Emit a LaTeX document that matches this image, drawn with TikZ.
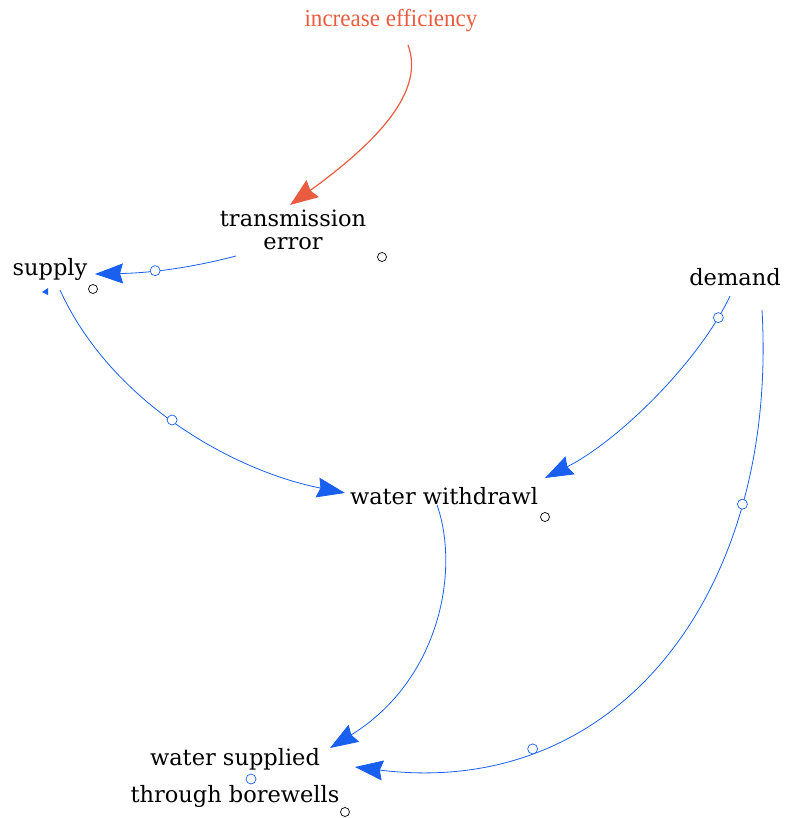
\documentclass[tikz,border=0pt]{standalone}
\usepackage{fontspec}
\setmainfont{DejaVu Serif}
\newfontfamily\policyfont{Liberation Serif}
\usetikzlibrary{arrows.meta,calc}
\definecolor{linkblue}{RGB}{25,95,240}
\definecolor{policy}{RGB}{234,92,64}
\begin{document}
\begin{tikzpicture}[x=1pt,y=-1pt,
  var/.style={inner sep=0pt, align=center, font=\fontsize{22.5}{23}\selectfont},
  link/.style={draw=linkblue, line width=0.8pt,
    -{Stealth[length=28pt,width=20pt,inset=3pt]}},
  plink/.style={draw=policy, line width=1.2pt,
    -{Stealth[length=28pt,width=21pt,inset=3pt]}},
  ring/.style={circle, draw=black, line width=0.7pt, minimum size=9pt, inner sep=0pt, fill=white},
  bluering/.style={circle, draw=linkblue, line width=0.7pt, minimum size=10pt, inner sep=0pt, fill=white}]
\useasboundingbox (0,0) rectangle (784,818);

% variables
\node[inner sep=0pt, text=policy, font=\policyfont\fontsize{24.5}{26}\selectfont] (incr) at (391,21)
  {\scalebox{0.94}[1]{increase efficiency}};
\node[var] (te) at (293,230) {transmission\\error};
\node[var] (supply) at (50,269) {supply};
\node[var] (demand) at (735,277) {demand};
\node[var] (ww) at (444,496) {water withdrawl};
\node[var, font=\fontsize{22.5}{37}\selectfont] (ws) at (235,778) {water supplied\\through borewells};

% small markers next to the variables
\node[ring] (m1) at (382,257) {};
\node[ring] (m2) at (93,289) {};
\node[ring] (m3) at (545,517) {};
\node[ring] (m4) at (345,812) {};
\node[bluering] (m5) at (251,779) {};
\fill[linkblue] (42,292) -- (48,288) -- (48,295) -- cycle;

% causal links
\draw[plink] ($(incr)+(17,24)$) .. controls (425,90) and (380,140) .. ($(te)+(-3,-25)$);
\draw[link] ($(te)+(-57,26)$) .. controls (190,268) and (150,273) .. ($(supply)+(45,5)$)
  node[bluering, pos=0.6] (c1) {};
\draw[link] ($(supply)+(10,21)$) .. controls (110,400) and (230,470) .. ($(ww)+(-99,-3)$)
  node[bluering, pos=0.48] (c2) {};
\draw[link] ($(demand)+(-5,19)$) .. controls (700,360) and (620,440) .. ($(ww)+(101,-18)$)
  node[bluering, pos=0.11] (c3) {};
\draw[link] ($(demand)+(27,33)$) .. controls (778,590) and (620,800) .. ($(ws)+(120,-11)$)
  node[bluering, pos=0.25] (c4) {} node[bluering, pos=0.75] (c5) {};
\draw[link] ($(ww)+(-7,9)$) .. controls (460,570) and (440,680) .. ($(ws)+(95,-30)$);
\end{tikzpicture}
\end{document}
